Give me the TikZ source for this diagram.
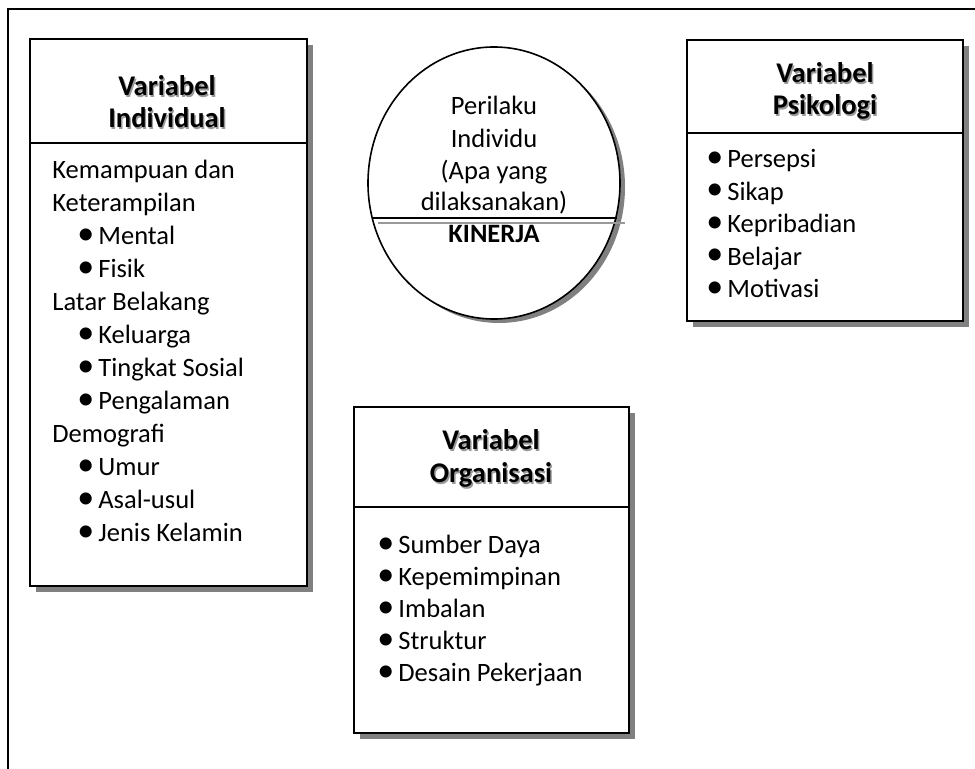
\documentclass[tikz,border=0pt]{standalone}
\usepackage{fontspec}
\setmainfont{Carlito}
\usetikzlibrary{shapes.geometric,shadows,fit}
\newcommand\shtext[1]{\makebox[0pt][l]{\hspace{0.7pt}\raisebox{-0.7pt}{\color{black!40}#1}}#1}
\newcommand\bul{\makebox[10.5pt][l]{\raisebox{0.3pt}{\fontsize{17}{17}\selectfont •}}}
\begin{document}
\begin{tikzpicture}[x=0.5pt,y=-0.5pt,
  outerline/.style={draw=black, line width=0.8pt},
  frame/.style={draw=black, line width=0.8pt},
  vbox/.style={frame, fill=white, inner sep=0pt,
     drop shadow={shadow xshift=3pt, shadow yshift=-3pt, fill=black!50, opacity=1}},
  oval/.style={ellipse, frame, fill=white, inner sep=0pt, minimum width=126pt, minimum height=136pt,
     drop shadow={shadow xshift=2.5pt, shadow yshift=-2pt, fill=black!50, opacity=1}},
  txt/.style={inner sep=0pt, anchor=base west, font=\fontsize{13.25}{16.5}\selectfont},
  ctxt/.style={inner sep=0pt, anchor=base, font=\fontsize{13.25}{16.5}\selectfont},
  hdr/.style={inner sep=0pt, anchor=base, font=\fontsize{14.25}{16.5}\selectfont\bfseries},
  kin/.style={inner sep=0pt, anchor=base, font=\fontsize{13.25}{16.5}\selectfont\bfseries}
]
\useasboundingbox (0,0) rectangle (975,769);
\draw[outerline] (8,790) -- (8,9) -- (990,9);

% ---- Variabel Individual
\node[vbox, fit={(30,39)(307,586)}] (ind) {};
\draw[frame] (ind.west |- 0,143) -- (ind.east |- 0,143);
\node[hdr] (indh1) at (167,96) {\shtext{Variabel}};
\node[hdr] (indh2) at (167,128) {\shtext{Individual}};
\node[txt] (ind1) at (52,179) {Kemampuan dan};
\node[txt] (ind2) at (52,212) {Keterampilan};
\node[txt] (ind3) at (77,245) {\bul Mental};
\node[txt] (ind4) at (77,278) {\bul Fisik};
\node[txt] (ind5) at (52,311) {Latar Belakang};
\node[txt] (ind6) at (77,344) {\bul Keluarga};
\node[txt] (ind7) at (77,377) {\bul Tingkat Sosial};
\node[txt] (ind8) at (77,410) {\bul Pengalaman};
\node[txt] (ind9) at (52,443) {Demografi};
\node[txt] (ind10) at (77,476) {\bul Umur};
\node[txt] (ind11) at (77,509) {\bul Asal-usul};
\node[txt] (ind12) at (77,542) {\bul Jenis Kelamin};

% ---- Perilaku Individu (ellipse)
\node[oval] (per) at (494,183) {};
\draw[black!40, line width=1pt] (378,223) -- (625,223);
\draw[frame] (373,218) -- (617,218);
\node[ctxt] (per1) at (494,115) {Perilaku};
\node[ctxt] (per2) at (494,148) {Individu};
\node[ctxt] (per3) at (494,180) {(Apa yang};
\node[ctxt] (per4) at (494,211) {dilaksanakan)};
\node[kin] (kin) at (494,243) {KINERJA};

% ---- Variabel Psikologi
\node[vbox, fit={(687,40)(963,321)}] (psi) {};
\draw[frame] (psi.west |- 0,133) -- (psi.east |- 0,133);
\node[hdr] (psih1) at (825,83) {\shtext{Variabel}};
\node[hdr] (psih2) at (825,115) {\shtext{Psikologi}};
\node[txt] (psi1) at (706,168) {\bul Persepsi};
\node[txt] (psi2) at (706,200.5) {\bul Sikap};
\node[txt] (psi3) at (706,233) {\bul Kepribadian};
\node[txt] (psi4) at (706,265.5) {\bul Belajar};
\node[txt] (psi5) at (706,298) {\bul Motivasi};

% ---- Variabel Organisasi
\node[vbox, fit={(354,407)(629,733)}] (org) {};
\draw[frame] (org.west |- 0,507) -- (org.east |- 0,507);
\node[hdr] (orgh1) at (491,450) {\shtext{Variabel}};
\node[hdr] (orgh2) at (491,483) {\shtext{Organisasi}};
\node[txt] (org1) at (377,554) {\bul Sumber Daya};
\node[txt] (org2) at (377,586) {\bul Kepemimpinan};
\node[txt] (org3) at (377,618) {\bul Imbalan};
\node[txt] (org4) at (377,650) {\bul Struktur};
\node[txt] (org5) at (377,682) {\bul Desain Pekerjaan};
\end{tikzpicture}
\end{document}
